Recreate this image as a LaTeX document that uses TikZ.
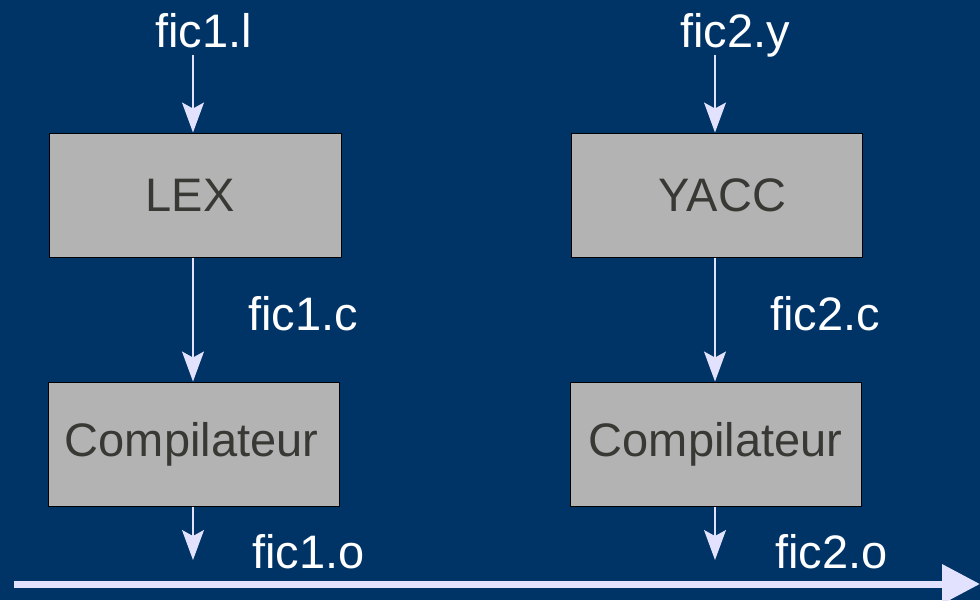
\documentclass[tikz,border=0pt]{standalone}
\usepackage{fontspec}
\setmainfont{Liberation Sans}
\usetikzlibrary{arrows.meta}
\definecolor{bg}{RGB}{0,51,102}
\definecolor{arr}{RGB}{226,226,255}
\definecolor{boxfill}{RGB}{179,179,179}
\definecolor{boxtext}{RGB}{56,56,52}
\begin{document}
\begin{tikzpicture}[x=0.5pt,y=-0.5pt,
  box/.style={draw=black, line width=0.5pt, fill=boxfill, minimum width=146pt, minimum height=62pt, inner sep=0pt, text=boxtext, font=\fontsize{23.5}{28}\selectfont},
  lbl/.style={text=white, inner sep=0pt, font=\fontsize{23.5}{28}\selectfont},
  flow/.style={draw=arr, line width=0.6pt, -{Stealth[length=15pt,width=11pt,inset=3pt]}},
  bigflow/.style={draw=arr, line width=3.5pt, -{Triangle[length=19pt,width=19pt]}}]
\fill[bg] (0,0) rectangle (980,600);
\useasboundingbox (0,0) rectangle (980,600);
% boxes
\node[box] (lex) at (195,195) {\kern-5pt LEX};
\node[box, minimum width=145.5pt] (yacc) at (716.5,195) {\kern6pt YACC};
\node[box, minimum width=145.5pt] (comp1) at (193.5,444) {\kern-2pt Compilateur};
\node[box, minimum width=145.5pt] (comp2) at (715.5,444) {Compilateur};
% labels
\node[lbl, anchor=base] (l1) at (203.5,47) {fic1.l};
\node[lbl, anchor=base] (l2) at (735,47) {fic2.y};
\node[lbl, anchor=base west] (c1) at (248,330) {fic1.c};
\node[lbl, anchor=base west] (c2) at (770,330) {fic2.c};
\node[lbl, anchor=base west] (o1) at (252,568) {fic1.o};
\node[lbl, anchor=base west] (o2) at (775,568) {fic2.o};
% arrows left
\coordinate (a1) at (193,55);
\coordinate (e1) at (193,560);
\draw[flow] (a1) -- (a1 |- lex.north);
\draw[flow] (a1 |- lex.south) -- (a1 |- comp1.north);
\draw[flow] (a1 |- comp1.south) -- (e1);
% arrows right
\coordinate (a2) at (715,55);
\coordinate (e2) at (715,560);
\draw[flow] (a2) -- (a2 |- yacc.north);
\draw[flow] (a2 |- yacc.south) -- (a2 |- comp2.north);
\draw[flow] (a2 |- comp2.south) -- (e2);
% bottom arrow
\coordinate (s) at (14,584);
\coordinate (e) at (980,584);
\draw[bigflow] (s) -- (e);
\end{tikzpicture}
\end{document}
